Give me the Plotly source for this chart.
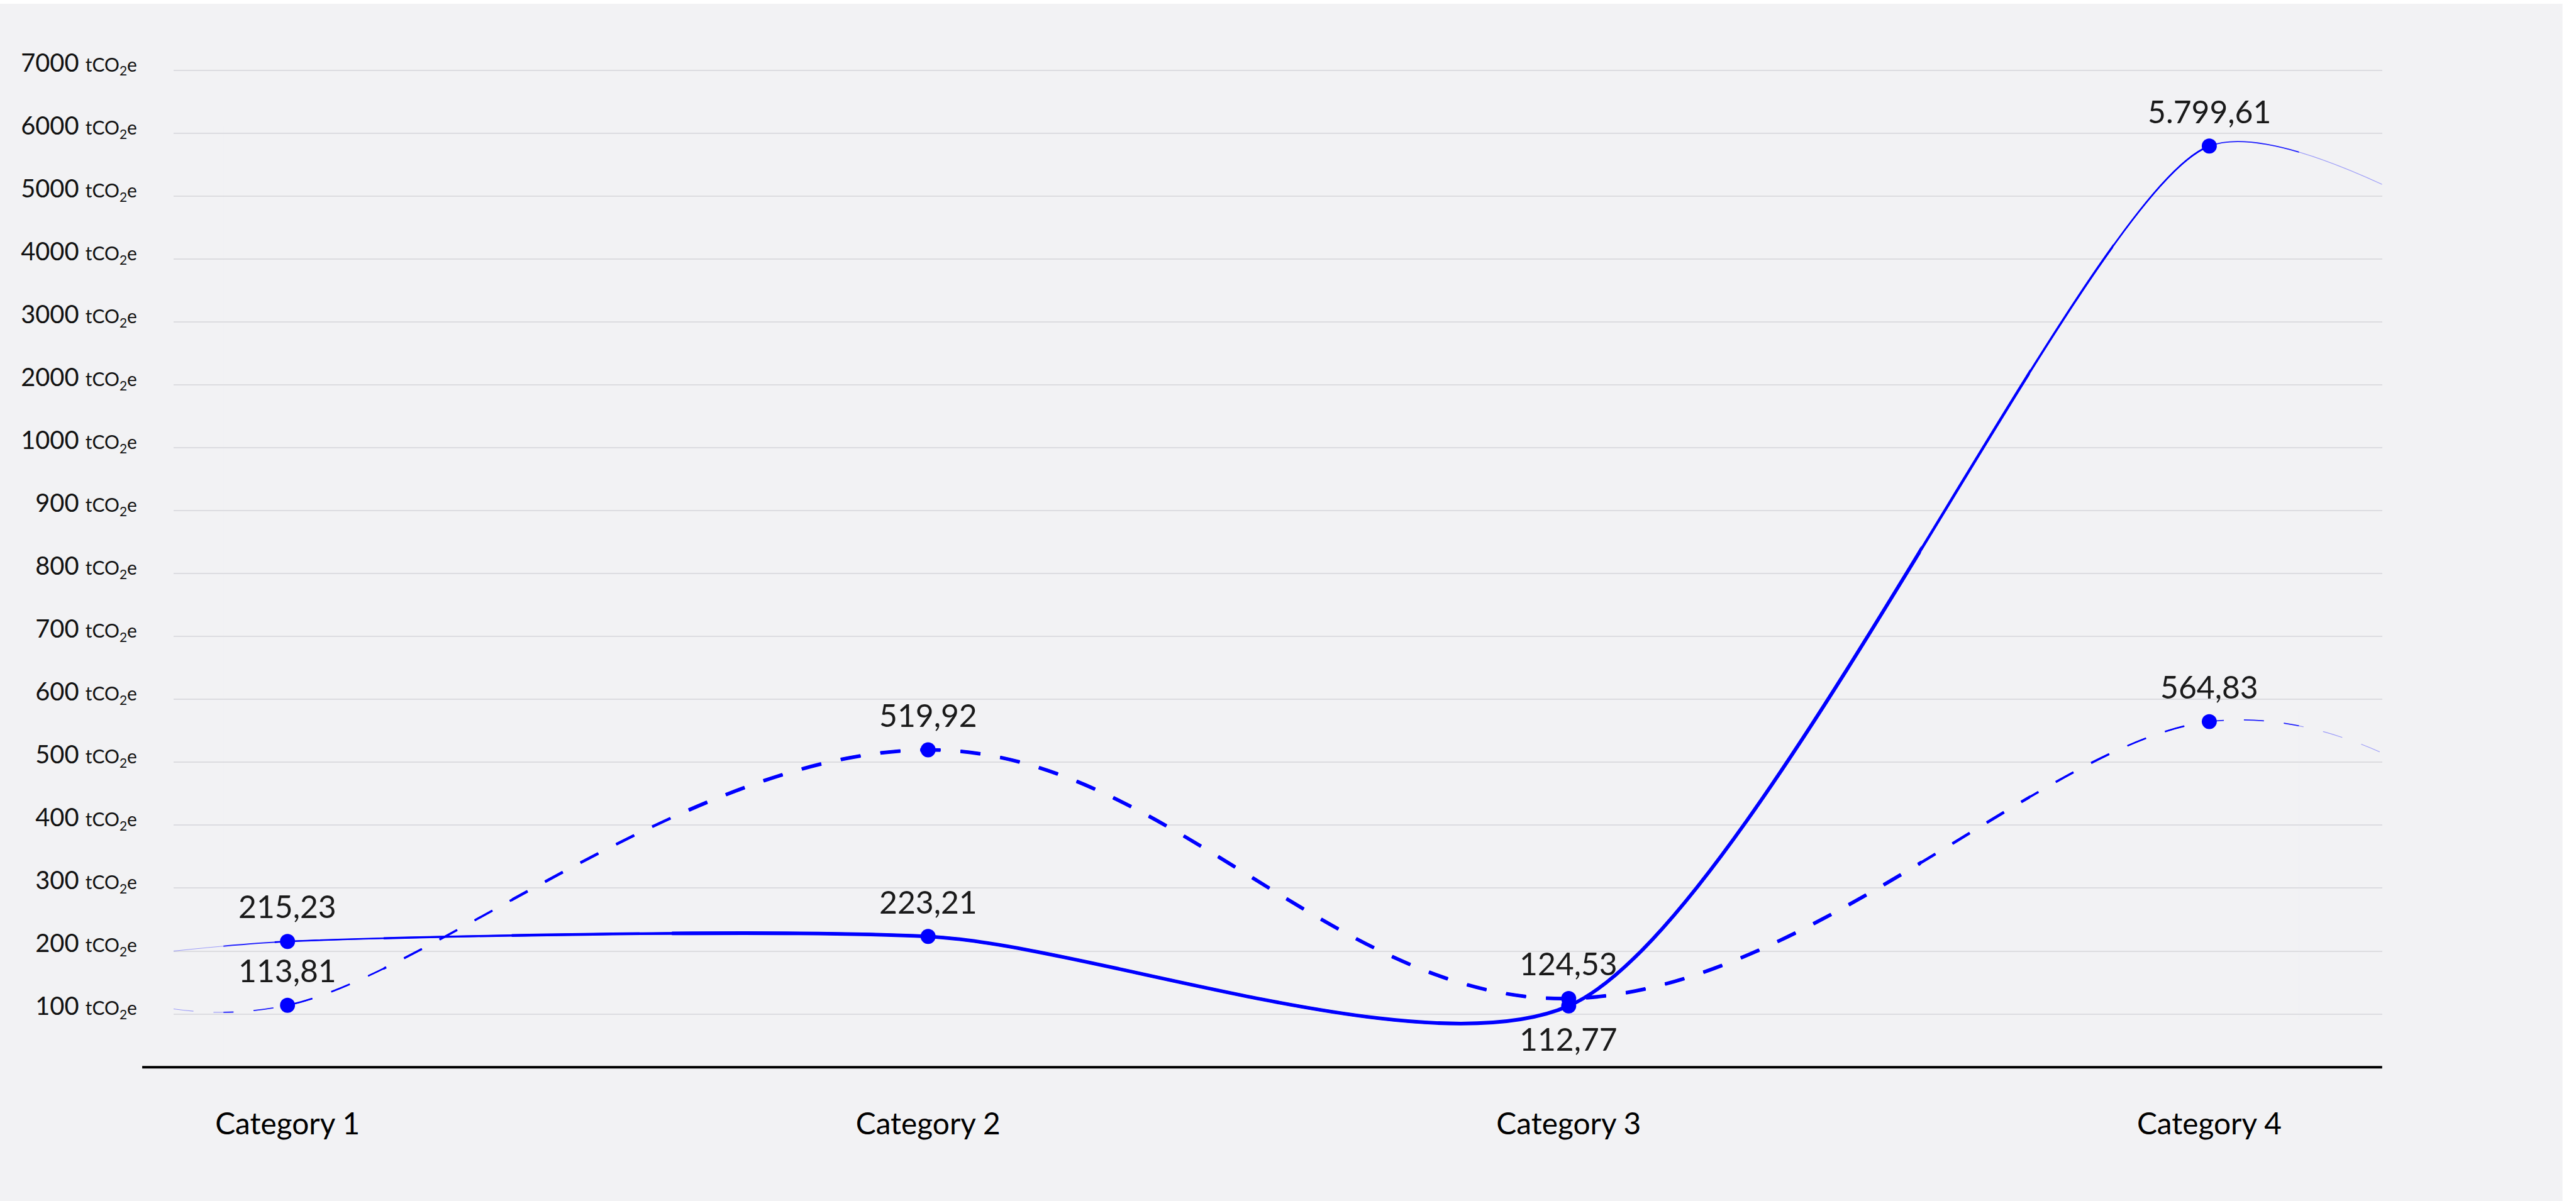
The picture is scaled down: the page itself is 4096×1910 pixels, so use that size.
import plotly.graph_objects as go

# ---------------- data ----------------
categories = ["Category 1", "Category 2", "Category 3", "Category 4"]
series_solid = [215.23, 223.21, 112.77, 5799.61]
series_dashed = [113.81, 519.92, 124.53, 564.83]
# values where the curves run out at the left / right edge of the plot
solid_edges = [200, 5190]
dashed_edges = [108, 515]
y_tick_values = [100, 200, 300, 400, 500, 600, 700, 800, 900, 1000,
                 2000, 3000, 4000, 5000, 6000, 7000]

# ---------------- geometry (reference px, scaled by S) ----------------
S = 0.996
W, H = 4096, 1910
BLUE = "#0000FF"
FONT = "Lato"


def pos(v):
    """axis mapping: 100-step ticks up to 1000, then 1000-step ticks"""
    return v / 100.0 if v <= 1000 else 10 + (v - 1000) / 1000.0


def fmt(v):
    s = f"{v:,.2f}"
    return s.replace(",", "X").replace(".", ",").replace("X", ".")


PLOT_X0, PLOT_X1 = 277, 3803
PLOT_Y0, PLOT_Y1 = 60, 1704
CAT0_X, CAT_STEP = 459, 1022.67
GRID100_Y, GRID_STEP = 1619, 100.42

xmin = (PLOT_X0 - CAT0_X) / CAT_STEP
xmax = (PLOT_X1 - CAT0_X) / CAT_STEP
ybot = 1 - (PLOT_Y1 - GRID100_Y) / GRID_STEP
ytop = 1 + (GRID100_Y - PLOT_Y0) / GRID_STEP

xdom = [PLOT_X0 * S / W, PLOT_X1 * S / W]
ydom = [1 - PLOT_Y1 * S / H, 1 - PLOT_Y0 * S / H]


def xdom_for(a, b):
    f = lambda x: (PLOT_X0 + (x - xmin) / (xmax - xmin) * (PLOT_X1 - PLOT_X0)) * S / W
    return [f(a), f(b)]


cat_x = list(range(len(categories)))
line_x = [xmin] + cat_x + [xmax]
solid_y = [pos(v) for v in [solid_edges[0]] + series_solid + [solid_edges[1]]]
dashed_y = [pos(v) for v in [dashed_edges[0]] + series_dashed + [dashed_edges[1]]]

DASH = f"{32*S:.1f}px,{32*S:.1f}px"
SMOOTH_SOLID = 0.75
SMOOTH_DASHED = 1.1

# taper windows: (x from, x to, width in ref px, opacity)
windows = [
    (xmin, xmax, 1.2, 0.35),
    (-0.10, 3.14, 1.8, 0.8),
    (-0.02, 3.00, 2.6, 1.0),
    (0.15, 2.85, 3.5, 1.0),
    (0.35, 2.72, 4.5, 1.0),
    (0.60, 2.55, 5.8, 1.0),
]

fig = go.Figure()
layout_axes = {}
for k, (a, b, w, op) in enumerate(windows, start=1):
    xa = "x" if k == 1 else f"x{k}"
    ya = "y" if k == 1 else f"y{k}"
    for yy, dash, sm in [(dashed_y, DASH, SMOOTH_DASHED), (solid_y, "solid", SMOOTH_SOLID)]:
        fig.add_trace(go.Scatter(
            x=line_x, y=yy, mode="lines", xaxis=xa, yaxis=ya,
            line=dict(color=BLUE, width=w * S, dash=dash, shape="spline",
                      smoothing=sm, simplify=False),
            opacity=op, hoverinfo="skip", showlegend=False))
    if k > 1:
        layout_axes[f"xaxis{k}"] = dict(domain=xdom_for(a, b), range=[a, b],
                                        visible=False, anchor=f"y{k}", fixedrange=True)
        layout_axes[f"yaxis{k}"] = dict(domain=ydom, range=[ybot, ytop],
                                        visible=False, anchor=f"x{k}", fixedrange=True)

# markers on top in their own full-size subplot
km = len(windows) + 1
for vals in (series_dashed, series_solid):
    fig.add_trace(go.Scatter(
        x=cat_x, y=[pos(v) for v in vals], mode="markers",
        xaxis=f"x{km}", yaxis=f"y{km}",
        marker=dict(color=BLUE, size=24 * S, line=dict(width=0)),
        hoverinfo="skip", showlegend=False))
layout_axes[f"xaxis{km}"] = dict(domain=xdom, range=[xmin, xmax], visible=False,
                                 anchor=f"y{km}", fixedrange=True)
layout_axes[f"yaxis{km}"] = dict(domain=ydom, range=[ybot, ytop], visible=False,
                                 anchor=f"x{km}", fixedrange=True)

# value labels
annotations = []
LABEL_OFF = 56
for vals in (series_solid, series_dashed):
    for i, v in enumerate(vals):
        below = (vals is series_solid and i == 2)
        annotations.append(dict(
            x=cat_x[i], y=pos(v), xref="x", yref="y", text=fmt(v), showarrow=False,
            xanchor="center", yanchor="middle",
            yshift=(-52 if below else LABEL_OFF) * S,
            font=dict(family=FONT, size=50 * S, color="#1a1a1a")))

tick_text = [f"{v} <span style='font-size:{30*S:.1f}px'>tCO<sub>2</sub>e</span>"
             for v in y_tick_values]

shapes = [
    # card background
    dict(type="rect", xref="paper", yref="paper", x0=0, x1=4091 * S / W,
         y0=0, y1=1 - 6 * S / H, fillcolor="#f2f2f4", line=dict(width=0), layer="below"),
    # baseline
    dict(type="line", xref="paper", yref="paper", x0=227 * S / W, x1=PLOT_X1 * S / W,
         y0=1 - PLOT_Y1 * S / H, y1=1 - PLOT_Y1 * S / H,
         line=dict(color="#000000", width=4 * S), layer="above"),
]

fig.update_layout(
    width=W, height=H,
    margin=dict(l=0, r=0, t=0, b=0, pad=0),
    paper_bgcolor="#ffffff", plot_bgcolor="rgba(0,0,0,0)",
    showlegend=False,
    xaxis=dict(domain=xdom, range=[xmin, xmax], tickvals=cat_x, ticktext=categories,
               showgrid=False, zeroline=False, showline=False, ticks="",
               tickfont=dict(family=FONT, size=48 * S, color="#000000"),
               ticklabelstandoff=58, automargin=False, fixedrange=True),
    yaxis=dict(domain=ydom, range=[ybot, ytop], tickvals=[pos(v) for v in y_tick_values],
               ticktext=tick_text, showgrid=True, gridcolor="#dcdce0", gridwidth=2 * S,
               zeroline=False, showline=False, ticks="",
               tickfont=dict(family=FONT, size=40 * S, color="#111111"),
               ticklabelstandoff=57, ticklabelshift=-12,
               automargin=False, fixedrange=True),
    annotations=annotations,
    shapes=shapes,
    **layout_axes,
)

fig.write_html("out.html")
